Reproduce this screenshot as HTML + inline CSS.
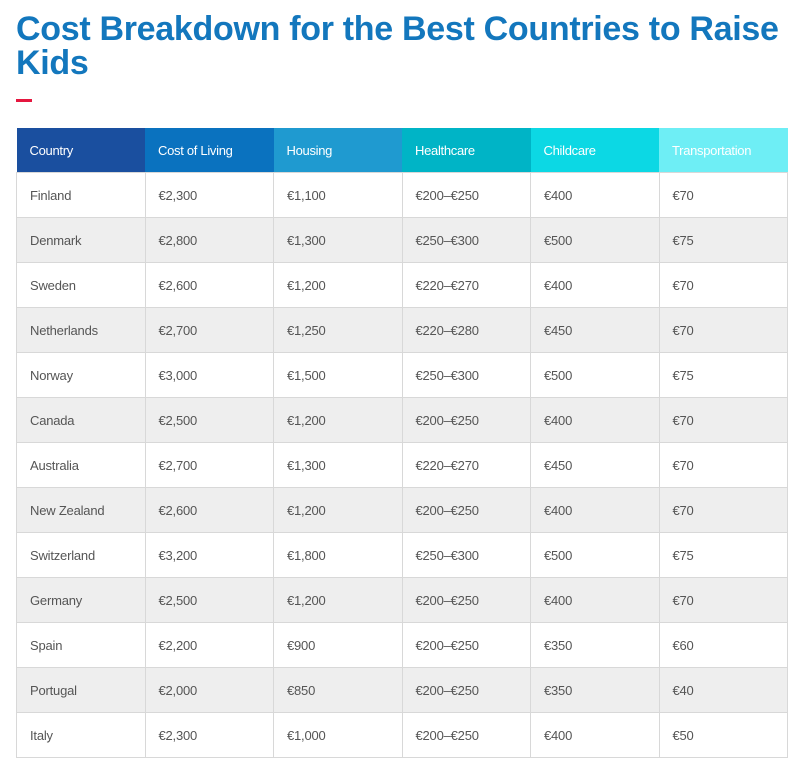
<!DOCTYPE html>
<html><head><meta charset="utf-8"><style>
body{margin:0;background:#fff;width:800px;height:766px;overflow:hidden;font-family:"Liberation Sans",sans-serif}
h1{position:absolute;left:16px;top:12px;margin:0;width:780px;font-size:34px;line-height:34px;font-weight:bold;color:#1377bd;letter-spacing:-0.3px}
.bar{position:absolute;left:16px;top:99px;width:16px;height:3px;background:#e5173f}
table{position:absolute;left:16px;top:128px;border-collapse:collapse;width:772px;table-layout:fixed}
th{height:44px;color:#fff;font-weight:normal;font-size:13px;text-align:left;padding:0 0 0 13px;letter-spacing:-0.3px}
td{height:44px;border:1px solid #d8d8d8;font-size:13px;color:#555;padding:0 0 0 13px;letter-spacing:-0.2px}
tr:nth-child(even) td{background:#eeeeee}
</style></head><body>
<h1>Cost Breakdown for the Best Countries to Raise Kids</h1>
<div class="bar"></div>
<table>
<thead><tr>
<th style="background:#1a4f9f">Country</th>
<th style="background:#0a72bf">Cost of Living</th>
<th style="background:#1f9ad0">Housing</th>
<th style="background:#00b4c6">Healthcare</th>
<th style="background:#0cd8e4">Childcare</th>
<th style="background:#6eeef5">Transportation</th>
</tr></thead>
<tbody id="tb"></tbody>
</table>
<script>
const countries=["Finland","Denmark","Sweden","Netherlands","Norway","Canada","Australia","New Zealand","Switzerland","Germany","Spain","Portugal","Italy"];
const costOfLiving=["€2,300","€2,800","€2,600","€2,700","€3,000","€2,500","€2,700","€2,600","€3,200","€2,500","€2,200","€2,000","€2,300"];
const housing=["€1,100","€1,300","€1,200","€1,250","€1,500","€1,200","€1,300","€1,200","€1,800","€1,200","€900","€850","€1,000"];
const healthcare=["€200–€250","€250–€300","€220–€270","€220–€280","€250–€300","€200–€250","€220–€270","€200–€250","€250–€300","€200–€250","€200–€250","€200–€250","€200–€250"];
const childcare=["€400","€500","€400","€450","€500","€400","€450","€400","€500","€400","€350","€350","€400"];
const transportation=["€70","€75","€70","€70","€75","€70","€70","€70","€75","€70","€60","€40","€50"];
const tb=document.getElementById('tb');
const cols=[countries,costOfLiving,housing,healthcare,childcare,transportation];
const colNames=["country","cost-of-living","housing","healthcare","childcare","transportation"];
countries.forEach((c,i)=>{
  const tr=document.createElement('tr');
  
  
  cols.forEach((arr,j)=>{
    const td=document.createElement('td');
    
    
    td.textContent=arr[i];
    tr.appendChild(td);
  });
  tb.appendChild(tr);
});
</script>
</body></html>
